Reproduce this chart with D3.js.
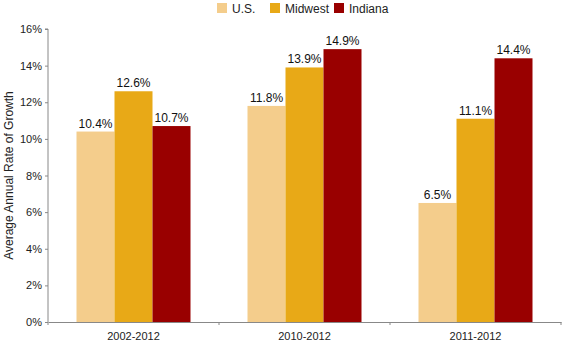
<!DOCTYPE html>
<html><head><meta charset="utf-8">
<script src="https://cdn.jsdelivr.net/npm/d3@7"></script>
<style>body{margin:0;background:#fff;}text{font-family:"Liberation Sans",Arial,sans-serif;}</style>
</head><body><svg id="c" width="563" height="344"></svg>
<script>
const categories = ["2002-2012", "2010-2012", "2011-2012"];
const seriesNames = ["U.S.", "Midwest", "Indiana"];
const usValues = [10.4, 11.8, 6.5];
const midwestValues = [12.6, 13.9, 11.1];
const indianaValues = [10.7, 14.9, 14.4];
const yTicks = [0, 2, 4, 6, 8, 10, 12, 14, 16];
const colors = ["#F4CD8C", "#E8A917", "#990000"];

const series = [usValues, midwestValues, indianaValues];
const svg = d3.select("#c");
const m = {l: 48, r: 2, t: 29, b: 22};
const W = 563, H = 344;
const x0 = d3.scaleBand().domain(categories).range([m.l, W - m.r]).paddingInner(0).paddingOuter(0);
const x1 = d3.scaleBand().domain(seriesNames).range([0, 114]);
const y = d3.scaleLinear().domain([0, 16]).range([H - m.b, m.t]);
const groupOffset = (x0.bandwidth() - 114) / 2;

const g = svg.append("g");
categories.forEach((c, i) => {
  seriesNames.forEach((s, j) => {
    const v = series[j][i];
    const bx = x0(c) + groupOffset + x1(s);
    g.append("rect").attr("x", bx).attr("y", y(v)).attr("width", x1.bandwidth())
      .attr("height", y(0) - y(v)).attr("fill", colors[j]);
    g.append("text").attr("x", bx + x1.bandwidth() / 2).attr("y", y(v) - 4)
      .attr("text-anchor", "middle").attr("font-size", 12).attr("fill", "#111")
      .text(v.toFixed(1) + "%");
  });
});

// y axis
const ya = svg.append("g").attr("transform", `translate(${m.l},0)`)
  .call(d3.axisLeft(y).tickValues(yTicks).tickFormat(d => d + "%").tickSize(3).tickPadding(3));
ya.select(".domain").attr("stroke", "#888").attr("d", `M-3,${y(16)}H0V${y(0)}`);
ya.selectAll(".tick line").attr("stroke", "#888");
ya.selectAll("text").attr("font-size", 11).attr("fill", "#222").attr("font-family", "Liberation Sans, Arial, sans-serif");

// x axis
const xa = svg.append("g").attr("transform", `translate(0,${y(0)})`)
  .call(d3.axisBottom(x0).tickSize(0).tickPadding(10));
xa.select(".domain").attr("stroke", "#888");
xa.selectAll("text").attr("font-size", 11).attr("fill", "#222").attr("font-family", "Liberation Sans, Arial, sans-serif");
[m.l, ...categories.map(c => x0(c) + x0.bandwidth())].forEach(px => {
  svg.append("line").attr("x1", px).attr("x2", px).attr("y1", y(0)).attr("y2", y(0) + 3).attr("stroke", "#888");
});

// y label
svg.append("text").attr("transform", `translate(13,${(y(0) + y(16)) / 2}) rotate(-90)`)
  .attr("text-anchor", "middle").attr("font-size", 12).attr("fill", "#222")
  .text("Average Annual Rate of Growth");

// legend
const legX = [217, 270, 334];
seriesNames.forEach((s, j) => {
  svg.append("rect").attr("x", legX[j]).attr("y", 3).attr("width", 10).attr("height", 10).attr("fill", colors[j]);
  svg.append("text").attr("x", legX[j] + 15).attr("y", 12.5).attr("font-size", 12).attr("fill", "#222").text(s);
});
</script></body></html>
